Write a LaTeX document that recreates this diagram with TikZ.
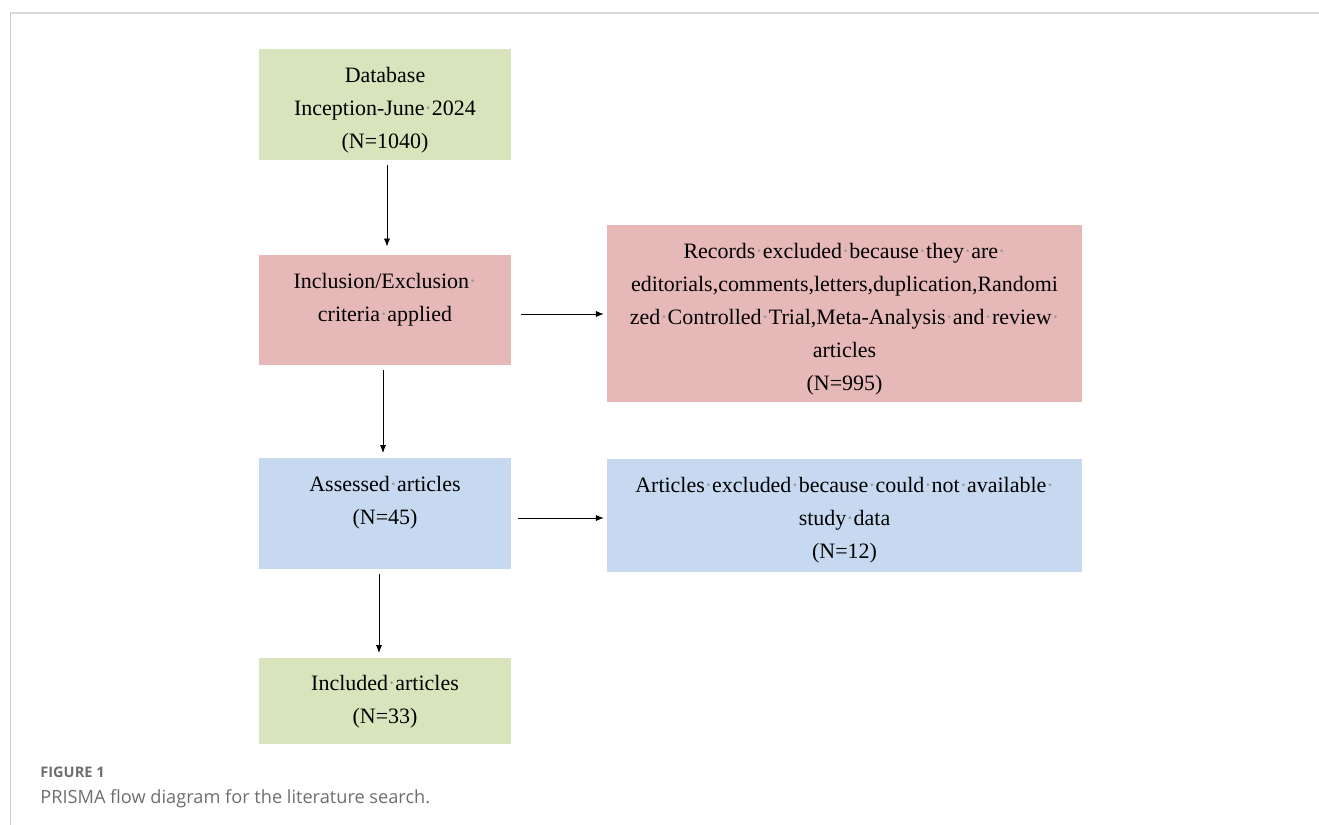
\documentclass[tikz,border=0pt]{standalone}
\usepackage{fontspec}
\setmainfont{Liberation Serif}
\newfontfamily\capfont{Open Sans}
\usetikzlibrary{arrows.meta, positioning}

\definecolor{boxgreen}{HTML}{D8E4BC}
\definecolor{boxpink}{HTML}{E6B9B8}
\definecolor{boxblue}{HTML}{C6D9F1}
\definecolor{capgray}{HTML}{6E6E6E}
% space marks as printed
\newcommand{\wsp}{{\color{black!40}\textperiodcentered}}

\begin{document}
\begin{tikzpicture}[
    x=0.02cm, y=-0.02cm,
    box/.style={draw=white, line width=0.6pt, minimum width=5.08cm},
    txt/.style={align=center, inner sep=0pt, font=\fontsize{12.5}{18.8}\selectfont},
    >={Latex[length=4.5pt, width=3.5pt]} % Arrow style
]
\useasboundingbox (0,0) rectangle (1319,825);

% frame
\draw[black!15, line width=1.2pt] (10,13) -- (1319,13);
\draw[black!20, line width=0.5pt] (10,13) -- (10,825);

% Boxes
\node[box, fill=boxgreen, minimum height=2.26cm] (db) at (385,104.5) {};
\node[box, fill=boxpink, minimum height=2.24cm] (crit) at (385,310) {};
\node[box, fill=boxpink, minimum width=9.54cm, minimum height=3.58cm] (rec) at (844.5,313.5) {};
\node[box, fill=boxblue, minimum height=2.26cm] (assess) at (385,513.5) {};
\node[box, fill=boxblue, minimum width=9.54cm, minimum height=2.30cm] (nodata) at (844.5,515.5) {};
\node[box, fill=boxgreen, minimum height=1.76cm] (incl) at (385,701) {};

% Texts
\node[txt] (dbtxt) at ([yshift=-0.12cm]db.center)
    {Database\\Inception-June\wsp 2024\\(N=1040)};
\node[txt] (crittxt) at ([yshift=0.2cm]crit.center)
    {Inclusion/Exclusion\wsp\\criteria\wsp applied};
\node[txt] (rectxt) at ([yshift=-0.12cm]rec.center)
    {Records\wsp excluded\wsp because\wsp they\wsp are\wsp\\
     editorials,comments,letters,duplication,Randomi\\
     zed\wsp Controlled\wsp Trial,Meta-Analysis\wsp and\wsp review\wsp\\
     articles\\(N=995)};
\node[txt] (assesstxt) at ([yshift=0.22cm]assess.center)
    {Assessed\wsp articles\\(N=45)};
\node[txt] (nodatatxt) at ([yshift=-0.1cm]nodata.center)
    {Articles\wsp excluded\wsp because\wsp could\wsp not\wsp available\wsp\\
     study\wsp data\\(N=12)};
\node[txt] (incltxt) at ([yshift=-0.02cm]incl.center)
    {Included\wsp articles\\(N=33)};

% Arrows
\draw[->, shorten <=2pt, shorten >=4pt] ([xshift=0.04cm]db.south) -- ([xshift=0.04cm]crit.north);
\draw[->, shorten <=2pt, shorten >=2pt] ([xshift=-0.04cm]crit.south) -- ([xshift=-0.04cm]assess.north);
\draw[->, shorten <=2pt, shorten >=2pt] ([xshift=-0.12cm]assess.south) -- ([xshift=-0.12cm]incl.north);
\draw[->, shorten <=5pt, shorten >=1pt] (crit.east |- 0,314) -- (rec.west |- 0,314);
\draw[->, shorten <=3pt, shorten >=1pt] (assess.east |- 0,518) -- (nodata.west |- 0,518);

% Caption
\node[anchor=base west, font=\capfont\bfseries\fontsize{8.3}{10}\selectfont, text=capgray, inner sep=0pt] (fig) at (40,777) {FIGURE 1};
\node[anchor=base west, font=\capfont\fontsize{10.35}{12}\selectfont, text=capgray, inner sep=0pt] (cap) at (40,803) {PRISMA flow diagram for the literature search.};
\end{tikzpicture}
\end{document}
